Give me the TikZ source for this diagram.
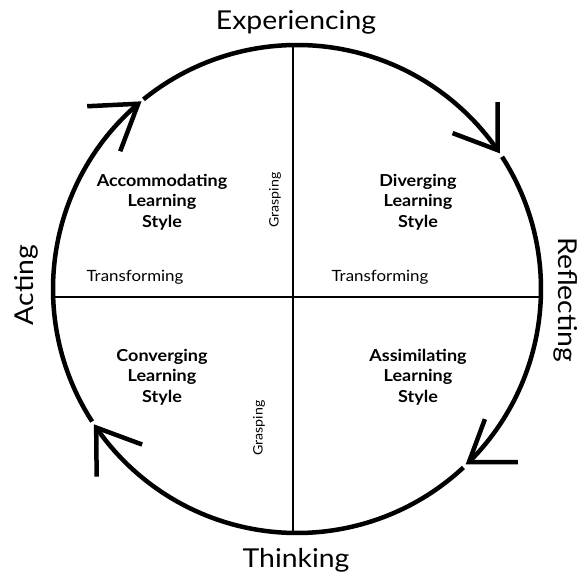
\documentclass[tikz,border=0pt]{standalone}
\usepackage{fontspec}
\setmainfont{Lato}[FakeStretch=1.09]
\begin{document}
\begin{tikzpicture}[x=1pt,y=1pt,
  ring/.style={line width=4.5pt},
  head/.style={line width=4.5pt, line join=miter, line cap=butt},
  axis/.style={line width=1.8pt},
  phase/.style={font=\fontsize{26}{30}\selectfont},
  stylebox/.style={font=\fontsize{16.5}{20.5}\selectfont\bfseries, align=center},
  dim/.style={font=\fontsize{15.5}{18}\selectfont},
  dimv/.style={font=\fontsize{13}{15}\selectfont}]
\useasboundingbox (0,0) rectangle (579,576);
\coordinate (c) at (297,287);
\def\R{244}
% axes
\coordinate (vt) at (293,531);
\coordinate (vb) at (293,43);
\coordinate (hl) at (53.1,279);
\coordinate (hr) at (540.9,279);
\draw[axis] (vt) -- (vb);
\draw[axis] (hl) -- (hr);
% arcs (clockwise)
\draw[ring] ([shift={(129:\R)}]c) arc[start angle=129, end angle=34.7, radius=\R];
\draw[ring] ([shift={(32.8:\R)}]c) arc[start angle=32.8, end angle=-45.2, radius=\R];
\draw[ring] ([shift={(-47:\R)}]c) arc[start angle=-47, end angle=-145.4, radius=\R];
\draw[ring] ([shift={(-147.1:\R)}]c) arc[start angle=-147.1, end angle=-229.4, radius=\R];
% arrow heads
\coordinate (t1) at ([shift={(34.7:\R)}]c);
\coordinate (t2) at ([shift={(-45.2:\R)}]c);
\coordinate (t3) at ([shift={(-145.4:\R)}]c);
\coordinate (t4) at ([shift={(130.6:\R)}]c);
\draw[head] ([shift={(0,48)}]t1) -- (t1) -- ([shift={(-45,17)}]t1);
\draw[head] ([shift={(16,43)}]t2) -- (t2) -- ([shift={(49,0)}]t2);
\draw[head] ([shift={(0.5,-49)}]t3) -- (t3) -- ([shift={(46,-17)}]t3);
\draw[head] ([shift={(-51,-2.5)}]t4) -- (t4) -- ([shift={(-18,-47.5)}]t4);
% phase labels
\node[phase, anchor=base] (exp) at (296,546.5) {Experiencing};
\node[phase, anchor=base] (thi) at (296,8.5) {Thinking};
\node[phase, anchor=base, rotate=90] (act) at (33.3,291) {Acting};
\node[phase, anchor=base, rotate=-90] (ref) at (558.3,276) {Reflecting};
% learning styles
\node[stylebox] (acc) at (162,374) {Accommodating\\Learning\\Style};
\node[stylebox] (div) at (418,374) {Diverging\\Learning\\Style};
\node[stylebox] (con) at (162,199) {Converging\\Learning\\Style};
\node[stylebox] (ass) at (418,199) {Assimilating\\Learning\\Style};
% dimension labels
\node[dim] (tr1) at (135,299) {Transforming};
\node[dim] (tr2) at (380,299) {Transforming};
\node[dimv, rotate=90] (gr1) at (275,376) {Grasping};
\node[dimv, rotate=90] (gr2) at (259,148) {Grasping};
\end{tikzpicture}
\end{document}
